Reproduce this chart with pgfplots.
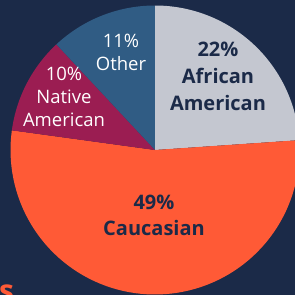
\documentclass[border=0pt]{standalone}
\usepackage{pgfplots}
\pgfplotsset{compat=1.18}
\usepackage{fontspec}
\setmainfont{Open Sans}
\definecolor{bg}{HTML}{1B2A48}
\definecolor{cAA}{HTML}{C4C7D0}
\definecolor{cCa}{HTML}{FF5A36}
\definecolor{cNa}{HTML}{9B1D52}
\definecolor{cOt}{HTML}{305C84}
\begin{document}
\begin{tikzpicture}
\useasboundingbox (-155pt,-145pt) rectangle (140pt,150pt);
\clip (-155pt,-145pt) rectangle (140pt,150pt);
\fill[bg] (-155pt,-145pt) rectangle (140pt,150pt);
% slice values (percent as printed)
\def\vAA{22}\def\vCa{49}\def\vNa{10}\def\vOt{11}
\pgfmathsetmacro\tot{\vAA+\vCa+\vNa+\vOt}
\pgfmathsetmacro\aA{90}
\pgfmathsetmacro\aB{\aA-360/\tot*\vAA}
\pgfmathsetmacro\aC{\aB-360/\tot*\vCa}
\pgfmathsetmacro\aD{\aC-360/\tot*\vNa}
\pgfmathsetmacro\aE{\aD-360/\tot*\vOt}
\def\R{144.5}
\begin{axis}[
  anchor=origin, at={(0,0)},
  x=1pt, y=1pt,
  xmin=-155, xmax=140, ymin=-145, ymax=150,
  hide axis, clip=false,
  samples=80,
]
\addplot[fill=cAA, draw=none, domain=\aB:\aA, variable=\t] ({\R*cos(\t)},{\R*sin(\t)}) -- (axis cs:0,0) -- cycle;
\addplot[fill=cCa, draw=none, domain=\aC:\aB, variable=\t] ({\R*cos(\t)},{\R*sin(\t)}) -- (axis cs:0,0) -- cycle;
\addplot[fill=cNa, draw=none, domain=\aD:\aC, variable=\t] ({\R*cos(\t)},{\R*sin(\t)}) -- (axis cs:0,0) -- cycle;
\addplot[fill=cOt, draw=none, domain=\aE:\aD, variable=\t] ({\R*cos(\t)},{\R*sin(\t)}) -- (axis cs:0,0) -- cycle;
\node[align=center, text=bg, font=\bfseries\fontsize{20}{27}\selectfont] at (axis cs:63,74) {22\%\\African\\American};
\node[align=center, text=white, font=\fontsize{18.5}{23}\selectfont] at (axis cs:-34,98) {11\%\\Other};
\node[align=center, text=white, font=\fontsize{18.5}{23}\selectfont] at (axis cs:-91,53) {10\%\\Native\\American};
\node[align=center, text=bg, font=\bfseries\fontsize{20}{26}\selectfont] at (axis cs:-1,-65) {\vCa\%\\Caucasian};
\end{axis}
\node[anchor=base west, inner sep=0pt, text=cCa, font=\bfseries\fontsize{30}{30}\selectfont] at (-156pt,-151pt) {s};
\end{tikzpicture}
\end{document}
